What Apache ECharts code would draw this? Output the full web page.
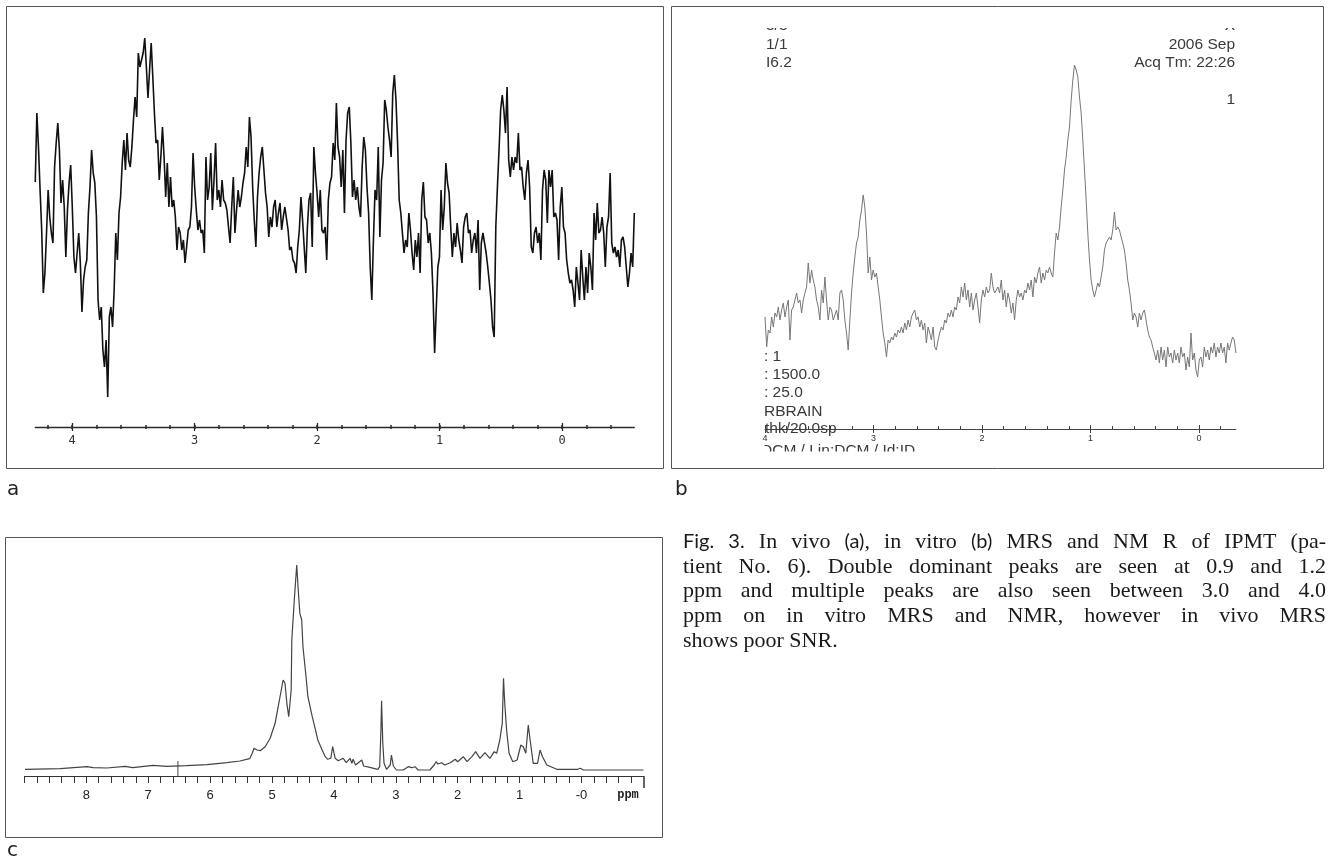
<!DOCTYPE html>
<html>
<head>
<meta charset="utf-8">
<script src="https://cdn.jsdelivr.net/npm/echarts@6/dist/echarts.min.js"></script>
<style>
  html, body { margin: 0; padding: 0; background: #fff; }
  #chart { width: 1330px; height: 862px; }
</style>
</head>
<body>
<div id="chart"></div>
<script>
// ---- panel a: in vivo MRS, evenly sampled from aStart to aEnd (ppm) ----
const aStart = 4.30, aEnd = -0.59;
const aIntensity = [
  245,314,280,237,197,134,154,194,237,210,194,184,260,284,304,277,224,247,220,170,
  217,244,262,220,170,154,174,194,164,115,147,160,167,214,240,277,254,244,210,127,
  107,120,77,60,87,30,110,120,100,137,194,167,214,230,264,287,257,294,267,260,
  280,307,330,310,374,360,367,374,389,360,329,357,384,350,314,284,287,247,270,300,
  270,230,264,220,250,220,227,210,177,200,194,177,187,164,180,197,200,220,274,240,
  217,197,207,194,197,174,270,227,240,274,217,247,284,227,237,220,247,227,224,217,
  200,184,220,250,194,217,237,220,230,244,254,280,260,310,290,240,207,180,230,254,
  270,280,257,234,220,190,210,200,220,227,200,214,224,197,210,220,220,197,177,180,
  167,164,154,180,197,230,207,180,154,200,227,234,180,280,254,234,210,237,197,194,
  200,167,227,244,250,284,
  267,324,280,270,240,277,214,287,314,320,284,230,247,227,240,220,210,260,290,277,
  240,214,160,127,187,237,227,280,190,247,264,327,317,300,287,270,334,352,327,284,
  227,214,194,174,187,180,214,197,174,157,187,170,194,154,227,245,210,207,184,194,
  174,134,74,117,160,170,237,197,220,264,244,234,200,170,194,180,204,187,177,164,
  200,210,214,194,197,174,187,194,174,207,137,184,194,184,174,160,144,127,100,90,
  200,240,277,317,332,317,294,340,267,250,270,257,270,264,294,257,260,240,227,254,
  267,240,180,174,194,200,184,194,167,237,257,247,204,257,240,257,210,214,207,167,
  220,240,200,194,167,154,144,147,137,120,160,144,127,177,150,127,160,134,174,160,
  137,214,187,224,194,197,210,194,160,200,210,254,184,174,180,170,177,160,187,190,
  180,160,140,154,174,160,214
];
const aTickLabels = [4, 3, 2, 1, 0];

// ---- panel b: in vitro MRS, evenly sampled from bStart to bEnd (ppm) ----
const bStart = 4.0, bEnd = -0.34;
const bIntensity = [
  112,82,99,96,112,102,116,112,122,109,119,126,112,122,129,89,119,122,129,136,
  126,129,116,129,136,142,166,146,159,149,142,129,122,109,139,126,152,129,109,122,
  119,109,109,119,109,136,139,129,109,96,79,109,136,156,172,186,192,209,219,234,
  222,196,156,172,149,159,152,156,142,129,112,96,86,72,89,86,92,89,96,92,
  99,96,102,96,106,99,109,102,112,116,119,109,112,102,109,99,106,86,102,96,
  89,102,82,79,89,96,102,99,109,106,116,112,119,112,122,119,132,126,142,132,
  146,129,139,122,136,119,129,136,122,106,129,139,132,142,136,139,156,142,136,139,
  142,136,149,129,139,122,136,129,116,126,109,129,139,132,136,129,139,136,146,139,
  149,132,152,146,156,162,146,156,149,159,156,162,156,152,176,196,189,202,222,239,
  259,272,289,302,329,349,364,359,352,332,316,289,259,229,196,169,149,139,132,139,
  146,142,152,162,179,186,189,192,189,199,217,199,202,199,192,186,179,166,149,139,
  126,109,116,112,102,116,109,116,119,109,99,92,89,82,76,69,79,66,82,69,
  79,62,82,72,76,66,79,69,76,66,82,72,76,59,72,62,96,69,76,59,
  52,69,72,62,82,72,79,69,82,76,86,72,82,76,86,76,82,66,86,79,
  86,92,89,76
];
const bTickLabels = [4, 3, 2, 1, 0];
const bNotesLeftTop = ['3/3', '1/1', 'I6.2'];
const bNotesRightTop = ['X', '2006 Sep', 'Acq Tm: 22:26', '1'];
const bNotesLeftBottom = [': 1', ': 1500.0', ': 25.0', 'RBRAIN', 'thk/20.0sp', 'DCM / Lin:DCM / Id:ID'];

// ---- panel c: NMR ----
const cPpm = [
  8.99,8.42,7.99,7.89,7.67,7.37,7.25,6.92,6.70,6.38,6.05,5.73,5.52,5.36,5.32,5.29,5.24,5.19,5.11,5.03,
  4.95,4.90,4.85,4.82,4.79,4.76,4.73,4.69,4.68,4.64,4.61,4.60,4.58,4.55,4.52,4.50,4.45,4.42,4.35,4.31,
  4.26,4.19,4.14,4.10,4.05,4.02,3.98,3.93,3.85,3.80,3.74,3.71,3.69,3.65,3.55,3.52,3.42,3.29,3.26,3.24,
  3.23,3.21,3.19,3.15,3.09,3.07,3.04,2.99,2.88,2.80,2.74,2.69,2.64,2.45,2.38,2.35,2.32,2.26,2.21,2.12,
  2.04,2.00,1.91,1.85,1.77,1.71,1.64,1.56,1.48,1.41,1.37,1.32,1.28,1.26,1.24,1.21,1.17,1.11,1.04,0.98,
  0.94,0.90,0.86,0.83,0.78,0.71,0.67,0.63,0.56,0.40,0.06,0.02,-0.03,-1.00
];
const cIntensity = [
  6.7,7.3,9.3,8.3,8,9.7,8.3,10.7,9.7,10.3,11.3,13.3,15,17.3,22.7,27.7,26,25.3,29.3,37.7,
  52.7,69.3,86,96,92.7,72.7,59.3,86,136,176,202.7,211,189.3,162.7,156,129.3,99.3,79.3,59.3,49.3,
  36,26,19.3,16.7,17.7,29.3,17.7,15.3,17.7,13.3,17.7,12.7,16.7,11,16,10,8.7,6.7,9.3,46,
  75.3,32.7,12.7,6.7,11,21,10,6,6,9.3,8.3,9.3,6,6,11,14.3,12,13.3,11,13.3,
  16.7,14.3,19.3,14.3,19.3,24.3,17.7,23.3,17.7,24.3,22.7,36,52.7,97.7,72.7,46,22.7,14.3,16,31,
  29.3,22.7,51,36,12.7,12.7,26,19.3,11,6.7,6.7,7.7,6,6
];
const cCursorPpm = [6.52, 6.52];
const cCursorIntensity = [0, 15];
const cTickLabels = [8, 7, 6, 5, 4, 3, 2, 1, 0];

const captionLines = [
  [['s', 'Fig. 3. '], ['r', 'In vivo '], ['s', '(a)'], ['r', ', in vitro '], ['s', '(b)'], ['r', ' MRS and NM R of IPMT (pa-']],
  [['r', 'tient No. 6). Double dominant peaks are seen at 0.9 and 1.2']],
  [['r', 'ppm and multiple peaks are also seen between 3.0 and 4.0']],
  [['r', 'ppm on in vitro MRS and NMR, however in vivo MRS']],
  [['r', 'shows poor SNR.']]
];

// ---------------------------------------------------------------
function spectrum(vals, from, to) {
  const step = (to - from) / (vals.length - 1);
  return vals.map((v, i) => [from + i * step, v]);
}
function steps(lo, hi, step) {
  const out = [];
  for (let k = Math.ceil(lo / step - 1e-9); k * step <= hi + 1e-9; k++) out.push(+(k * step).toFixed(2));
  return out;
}
function xAx(grid, min, max, o) {
  return Object.assign({
    type: 'value', gridIndex: grid, min: min, max: max, inverse: true, position: 'bottom',
    axisLine: { show: false, onZero: false },
    axisTick: { show: false },
    axisLabel: { show: false },
    splitLine: { show: false }
  }, o);
}

const aMin = aEnd, aMax = aStart;
const bMin = bEnd, bMax = bStart;
const cMin = -1, cMax = 9;
const aMinor = steps(aMin, aMax, 0.2);
const bMinor = steps(bMin, bMax, 0.2);
const cMinor = steps(-0.8, cMax, 0.2);

const xAxes = [
  // panel a (grid 0)
  xAx(0, aMin, aMax, {
    axisLine: { show: true, onZero: false, lineStyle: { color: '#2a2a2a', width: 1.3 } },
    axisTick: { show: true, customValues: aMinor, length: 2, lineStyle: { color: '#2a2a2a', width: 1.5 } },
    axisLabel: { show: true, customValues: aTickLabels, margin: 8, fontFamily: 'DejaVu Sans Mono', fontSize: 12, color: '#333' }
  }),
  xAx(0, aMin, aMax, { axisTick: { show: true, inside: true, customValues: aMinor, length: 2, lineStyle: { color: '#2a2a2a', width: 1.5 } } }),
  xAx(0, aMin, aMax, { axisTick: { show: true, customValues: aTickLabels, length: 4, lineStyle: { color: '#2a2a2a', width: 1.3 } } }),
  xAx(0, aMin, aMax, { axisTick: { show: true, inside: true, customValues: aTickLabels, length: 4, lineStyle: { color: '#2a2a2a', width: 1.3 } } }),
  // panel b (grid 1)
  xAx(1, bMin, bMax, {
    axisLine: { show: true, onZero: false, lineStyle: { color: '#444', width: 1 } },
    axisTick: { show: true, inside: true, customValues: bMinor, length: 3, lineStyle: { color: '#444' } },
    axisLabel: { show: true, customValues: bTickLabels, margin: 5, fontFamily: 'Liberation Sans', fontSize: 9, color: '#333' }
  }),
  xAx(1, bMin, bMax, { axisTick: { show: true, customValues: bTickLabels, length: 4, lineStyle: { color: '#444' } } }),
  xAx(1, bMin, bMax, { axisTick: { show: true, inside: true, customValues: bTickLabels, length: 4, lineStyle: { color: '#444' } } }),
  // panel c (grid 2)
  xAx(2, cMin, cMax, {
    axisLine: { show: true, onZero: false, lineStyle: { color: '#333', width: 1 } },
    axisTick: { show: true, customValues: cMinor, length: 7, lineStyle: { color: '#333' } },
    axisLabel: {
      show: true, customValues: cTickLabels, margin: 13, fontFamily: 'Liberation Sans', fontSize: 13, color: '#222',
      formatter: v => (v === 0 ? '-0' : String(v))
    }
  }),
  xAx(2, cMin, cMax, { axisTick: { show: true, customValues: [cMin], length: 12, lineStyle: { color: '#333', width: 1.5 } } })
];

// ---- graphics: frames, panel notes, caption ----
const graphics = [];
[[6, 6, 657, 462], [671, 6, 652, 462], [5, 537, 657, 300]].forEach(r => {
  graphics.push({ type: 'rect', z: 1, shape: { x: r[0] + 0.5, y: r[1] + 0.5, width: r[2], height: r[3] },
    style: { fill: 'none', stroke: '#555', lineWidth: 1 } });
});
const noteFont = { fontFamily: 'Liberation Sans', fontSize: 15.5, fill: '#3a3a3a' };
[26, 45, 63].forEach((y, i) => graphics.push({ type: 'text', z: 50, x: 766, y: y,
  style: Object.assign({ text: bNotesLeftTop[i], verticalAlign: 'middle' }, noteFont) }));
[26, 45, 63, 100].forEach((y, i) => graphics.push({ type: 'text', z: 50, x: 1235, y: y,
  style: Object.assign({ text: bNotesRightTop[i], align: 'right', verticalAlign: 'middle' }, noteFont) }));
[[764, 357], [764, 375], [764, 393], [764, 411.5], [765, 429], [761, 451]].forEach((p, i) => graphics.push({
  type: 'text', z: 50, x: p[0], y: p[1],
  style: Object.assign({ text: bNotesLeftBottom[i], verticalAlign: 'middle' }, noteFont) }));
// clipped edges of the scanner overlay text
graphics.push({ type: 'rect', z: 60, shape: { x: 740, y: 7, width: 510, height: 21 }, style: { fill: '#fff' } });
graphics.push({ type: 'rect', z: 60, shape: { x: 740, y: 451.5, width: 190, height: 15.5 }, style: { fill: '#fff' } });
graphics.push({ type: 'rect', z: 60, shape: { x: 740, y: 440, width: 24.5, height: 27 }, style: { fill: '#fff' } });

// panel letters
[['a', 7, 490], ['b', 675, 490], ['c', 7, 851]].forEach(t => graphics.push({ type: 'text', z: 50, x: t[1], y: t[2],
  style: { text: t[0], fontFamily: 'DejaVu Sans', fontSize: 20, fill: '#222', verticalAlign: 'middle' } }));
graphics.push({ type: 'text', z: 50, x: 628, y: 795,
  style: { text: 'ppm', fontFamily: 'Liberation Mono', fontWeight: 'bold', fontSize: 12, fill: '#222', align: 'center', verticalAlign: 'middle' } });

// caption: justified lines, extra space spread over the word gaps
const richFonts = {
  s: { fontFamily: 'Lato', fontSize: 20, fill: '#1a1a1a' },
  r: { fontFamily: 'Liberation Serif', fontSize: 22, fill: '#1a1a1a' }
};
const ctx = document.createElement('canvas').getContext('2d');
function measure(f, t) {
  ctx.font = richFonts[f].fontSize + 'px "' + richFonts[f].fontFamily + '"';
  return ctx.measureText(t).width;
}
const capLeft = 683, capRight = 1326, capTop = 542, capLead = 24.8;
captionLines.forEach((parts, i) => {
  const words = [[]];
  parts.forEach(p => {
    p[1].split(/( )/).forEach(seg => {
      if (seg === ' ') { if (words[words.length - 1].length) words.push([]); }
      else if (seg) words[words.length - 1].push([p[0], seg]);
    });
  });
  if (!words[words.length - 1].length) words.pop();
  const widths = words.map(w => w.reduce((s, c) => s + measure(c[0], c[1]), 0));
  const total = widths.reduce((a, b) => a + b, 0);
  const last = i === captionLines.length - 1;
  const gap = last ? measure('r', ' ') : (capRight - capLeft - total) / (words.length - 1);
  let x = capLeft;
  words.forEach((w, k) => {
    graphics.push({
      type: 'text', z: 50, x: x, y: capTop + i * capLead,
      style: { text: w.map(c => '{' + c[0] + '|' + c[1] + '}').join(''), rich: richFonts, verticalAlign: 'middle' }
    });
    x += widths[k] + gap;
  });
});

const chart = echarts.init(document.getElementById('chart'));
chart.setOption({
  animation: false,
  backgroundColor: '#fff',
  grid: [
    { left: 35.25, top: 7, width: 599.05, height: 420 },
    { left: 765, top: 9, width: 470.9, height: 420 },
    { left: 24.4, top: 536, width: 619, height: 240 }
  ],
  xAxis: xAxes,
  yAxis: [
    { type: 'value', gridIndex: 0, min: 0, max: 420, show: false },
    { type: 'value', gridIndex: 1, min: 0, max: 420, show: false },
    { type: 'value', gridIndex: 2, min: 0, max: 240, show: false }
  ],
  series: [
    { name: 'in vivo', type: 'line', xAxisIndex: 0, yAxisIndex: 0, showSymbol: false,
      data: spectrum(aIntensity, aStart, aEnd), lineStyle: { color: '#111', width: 1.6 } },
    { name: 'in vitro', type: 'line', xAxisIndex: 4, yAxisIndex: 1, showSymbol: false,
      data: spectrum(bIntensity, bStart, bEnd), lineStyle: { color: '#777', width: 1 } },
    { name: 'NMR', type: 'line', xAxisIndex: 7, yAxisIndex: 2, showSymbol: false,
      data: cPpm.map((p, i) => [p, cIntensity[i]]), lineStyle: { color: '#444', width: 1.2 } },
    { name: 'cursor', type: 'line', xAxisIndex: 7, yAxisIndex: 2, showSymbol: false,
      data: cCursorPpm.map((p, i) => [p, cCursorIntensity[i]]), lineStyle: { color: '#444', width: 1 } }
  ],
  graphic: graphics
});
</script>
</body>
</html>
